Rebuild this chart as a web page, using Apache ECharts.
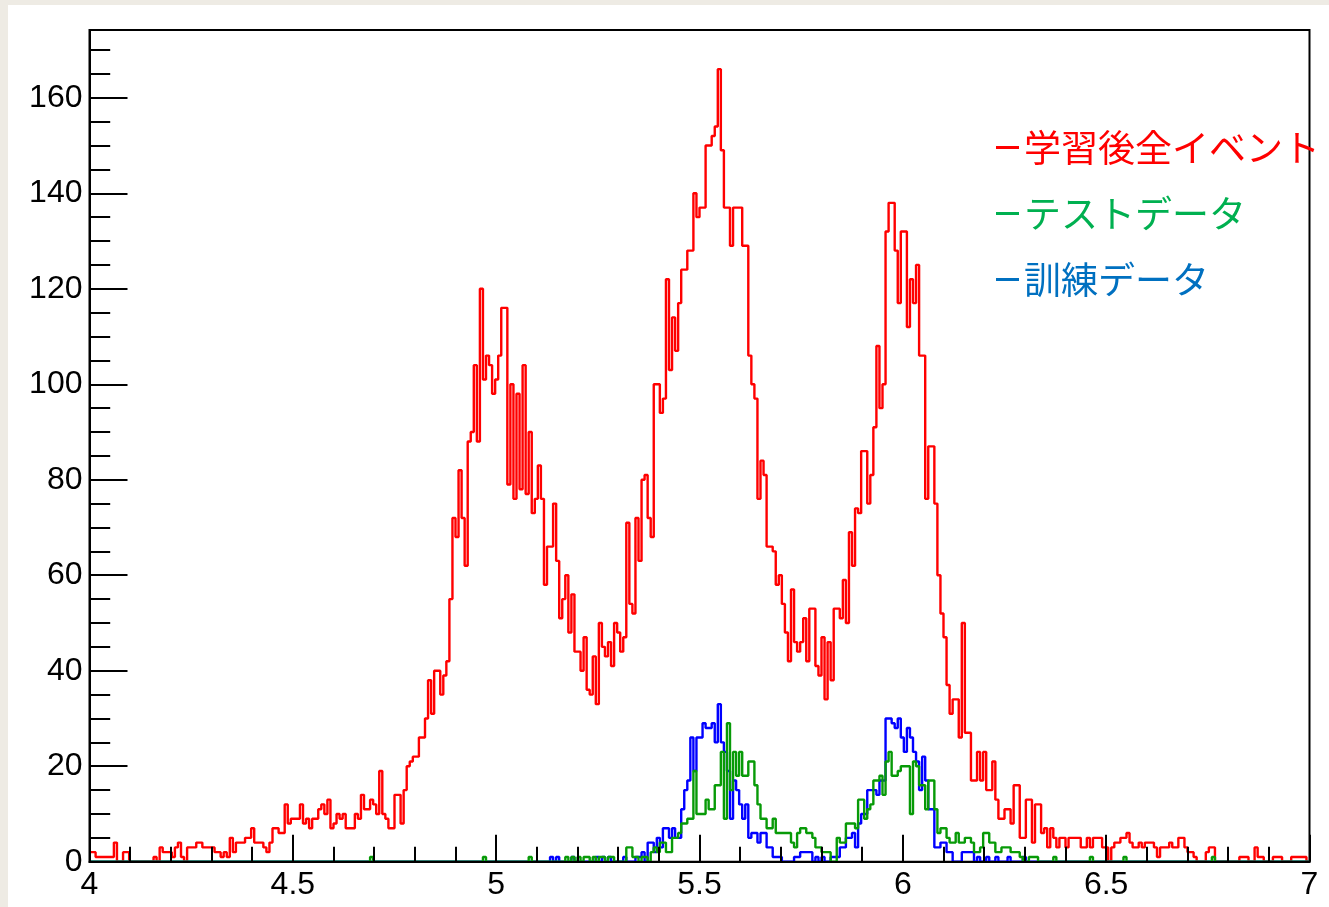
<!DOCTYPE html>
<html>
<head>
<meta charset="utf-8">
<script src="https://cdn.jsdelivr.net/npm/echarts/dist/echarts.min.js"></script>
<style>
  html, body { margin: 0; padding: 0; width: 1329px; height: 907px; background: #eeebe4; overflow: hidden; }
  #main { position: absolute; left: 8px; top: 5px; width: 1321px; height: 902px; background: #ffffff; }
</style>
</head>
<body>
<div id="main"></div>
<script>
// Histogram binning: 400 bins from 4 to 7
const X_MIN = 4;
const X_MAX = 7;

const seriesNames = ['学習後全イベント', 'テストデータ', '訓練データ'];

// 学習後全イベント (all events after training)
const allEvents = [
  2,2,1,1,1,1,1,1,4,0,
  0,2,2,0,0,0,0,0,0,0,
  0,1,0,3,2,2,2,1,3,4,
  1,0,3,3,3,4,4,3,3,3,
  3,2,2,1,2,1,5,2,4,4,
  4,5,5,7,4,4,4,3,2,4,
  7,7,6,6,12,8,9,9,9,12,
  8,9,7,9,9,11,12,10,13,7,
  8,10,9,10,7,7,7,10,9,14,
  11,11,13,12,10,19,10,9,7,7,
  14,14,8,15,20,21,22,22,26,26,
  30,38,31,40,40,35,39,42,55,72,
  68,82,72,62,88,90,104,88,120,101,
  106,104,98,101,106,116,116,79,100,76,
  98,78,104,77,90,73,76,83,76,58,
  66,66,75,63,51,55,60,48,56,44,
  44,40,47,36,35,43,33,50,45,43,
  46,41,50,48,44,47,71,54,52,72,
  63,80,81,72,68,100,100,94,97,122,
  103,114,107,117,124,124,128,128,140,135,
  137,137,150,150,152,154,166,149,137,137,
  129,137,137,137,129,129,106,100,97,76,
  84,81,66,66,65,58,60,54,48,42,
  57,46,44,46,51,42,53,53,41,39,
  47,34,46,38,53,53,51,59,50,69,
  62,74,73,86,86,75,81,91,108,95,
  100,132,138,138,128,117,132,132,112,122,
  117,125,106,106,76,87,87,75,60,52,
  47,37,31,34,34,26,50,27,27,17,
  17,23,17,23,15,15,21,13,9,9,
  11,11,8,16,16,5,5,13,13,4,
  12,12,6,7,3,7,5,3,5,5,
  3,5,5,5,5,3,3,5,3,5,
  5,5,3,3,0,3,4,4,5,5,
  6,4,3,3,4,3,4,4,4,3,
  1,3,3,3,4,3,3,5,5,3,
  2,2,1,0,0,0,2,3,3,0,
  0,0,0,0,0,0,0,1,1,1,
  0,0,3,1,1,0,0,0,1,1,
  1,0,0,0,1,1,1,1,1,0
];

// テストデータ (test data)
const testData = [
  0,0,0,0,0,0,0,0,0,0,
  0,0,0,0,0,0,0,0,0,0,
  0,0,0,0,0,0,0,0,0,0,
  0,0,0,0,0,0,0,0,0,0,
  0,0,0,0,0,0,0,0,0,0,
  0,0,0,0,0,0,0,0,0,0,
  0,0,0,0,0,0,0,0,0,0,
  0,0,0,0,0,0,0,0,0,0,
  0,0,0,0,0,0,0,0,0,0,
  0,0,1,0,0,0,0,0,0,0,
  0,0,0,0,0,0,0,0,0,0,
  0,0,0,0,0,0,0,0,0,0,
  0,0,0,0,0,0,0,0,0,1,
  0,0,0,0,0,0,0,0,0,0,
  0,0,0,0,1,0,0,0,0,0,
  0,0,0,0,0,0,1,0,1,0,
  1,0,1,1,0,1,0,1,1,0,
  1,1,0,0,0,0,3,3,1,1,
  0,1,1,0,2,3,2,4,4,2,
  2,5,5,6,8,8,9,9,19,10,
  10,10,13,11,11,16,16,23,9,29,
  15,23,18,23,18,18,21,21,16,12,
  9,9,7,7,9,6,6,6,6,6,
  4,3,6,7,7,6,6,5,3,3,
  2,2,2,0,0,5,4,4,8,8,
  8,7,13,13,9,11,12,17,17,18,
  14,21,23,18,18,19,20,20,20,10,
  21,20,16,16,11,17,17,11,6,7,
  7,5,4,4,6,4,4,5,5,4,
  2,2,3,6,6,4,4,2,2,3,
  3,3,2,2,2,1,0,0,1,1,
  1,0,0,0,0,0,1,0,0,0,
  0,0,0,0,0,0,0,0,1,0,
  0,0,0,0,0,0,0,0,0,1,
  0,0,0,0,0,0,0,0,0,0,
  0,0,0,0,0,0,0,0,0,0,
  0,0,0,0,0,0,0,0,1,0,
  0,0,0,0,0,0,0,0,0,0,
  0,0,0,0,0,0,0,0,0,0,
  0,0,0,0,0,0,0,0,0,0
];

// 訓練データ (training data)
const trainData = [
  0,0,0,0,0,0,0,0,0,0,
  0,0,0,0,0,0,0,0,0,0,
  0,0,0,0,0,0,0,0,0,0,
  0,0,0,0,0,0,0,0,0,0,
  0,0,0,0,0,0,0,0,0,0,
  0,0,0,0,0,0,0,0,0,0,
  0,0,0,0,0,0,0,0,0,0,
  0,0,0,0,0,0,0,0,0,0,
  0,0,0,0,0,0,0,0,0,0,
  0,0,0,0,0,0,0,0,0,0,
  0,0,0,0,0,0,0,0,0,0,
  0,0,0,0,0,0,0,0,0,0,
  0,0,0,0,0,0,0,0,0,0,
  0,0,0,0,0,0,0,0,0,0,
  0,0,0,0,0,0,0,0,0,0,
  0,1,0,1,0,0,0,0,1,0,
  0,0,0,0,0,0,1,0,1,0,
  1,0,0,0,0,1,0,0,0,1,
  1,2,0,4,4,2,5,3,7,7,
  5,7,5,5,11,15,17,26,19,26,
  26,29,28,28,29,25,33,25,23,19,
  9,17,15,12,9,12,5,6,6,4,
  6,6,3,3,1,1,1,0,0,0,
  0,1,1,2,2,2,2,0,1,0,
  1,0,0,1,1,1,3,3,5,5,
  6,3,8,10,10,15,15,15,14,17,
  17,30,30,29,28,30,26,23,28,26,
  23,21,15,22,17,11,11,3,3,4,
  4,2,2,0,0,0,2,2,2,2,
  0,1,0,0,1,0,0,1,0,0,
  0,1,0,0,0,0,1,0,0,0,
  0,0,0,0,0,0,0,0,0,0,
  0,0,0,0,0,0,0,0,0,0,
  0,0,0,0,0,0,0,0,0,0,
  0,0,0,0,0,0,0,0,0,0,
  0,0,0,0,0,0,0,0,0,0,
  0,0,0,0,0,0,0,0,0,0,
  0,0,0,0,0,0,0,0,0,0,
  0,0,0,0,0,0,0,0,0,0,
  0,0,0,0,0,0,0,0,0,0
];

const xTickLabels = ['4', '4.5', '5', '5.5', '6', '6.5', '7'];
const yTickLabels = ['0', '20', '40', '60', '80', '100', '120', '140', '160'];

function toSteps(vals) {
  const w = (X_MAX - X_MIN) / vals.length;
  const d = vals.map((v, i) => [X_MIN + i * w, v]);
  d.push([X_MAX, vals[vals.length - 1]]);
  return d;
}

const chart = echarts.init(document.getElementById('main'), null, { renderer: 'canvas' });
const LINE_COL = { red: '#ff0000', green: '#079a07', blue: '#0000ff' };
const TEXT_COL = { red: '#ff0000', green: '#00b050', blue: '#0070c0' };
const numFont = 'Liberation Sans, Arial, Helvetica, sans-serif';
const LW = 2.4;

const option = {
  animation: false,
  grid: { left: 81.5, right: 19.5, top: 25, bottom: 45.3, show: true, borderColor: '#000', borderWidth: 2, backgroundColor: 'transparent' },
  legend: {
    orient: 'vertical', left: 988, top: 124, padding: 0, icon: 'rect', itemWidth: 23, itemHeight: 3, itemGap: 29,
    selectedMode: false,
    textStyle: { fontSize: 37, lineHeight: 37, fontFamily: 'Noto Sans CJK JP' },
    data: [
      { name: seriesNames[0], itemStyle: { color: TEXT_COL.red }, textStyle: { color: TEXT_COL.red } },
      { name: seriesNames[1], itemStyle: { color: TEXT_COL.green }, textStyle: { color: TEXT_COL.green } },
      { name: seriesNames[2], itemStyle: { color: TEXT_COL.blue }, textStyle: { color: TEXT_COL.blue } }
    ]
  },
  xAxis: {
    type: 'value', min: X_MIN, max: X_MAX, interval: 0.5, z: 5,
    axisLine: { show: true, lineStyle: { color: '#000', width: 2 } },
    axisTick: { show: true, inside: true, length: 27, lineStyle: { color: '#000', width: 2 } },
    minorTick: { show: true, splitNumber: 5, length: 15, lineStyle: { color: '#000', width: 2 } },
    axisLabel: { color: '#000', fontSize: 32, fontFamily: numFont, margin: 7,
      formatter: v => { const s = xTickLabels.find(t => Math.abs(parseFloat(t) - v) < 1e-6); return s === undefined ? '' : s; } },
    splitLine: { show: false }
  },
  yAxis: [
    {
      type: 'value', min: 0, max: 174.2, interval: 20, position: 'left', z: 5,
      axisLine: { show: true, lineStyle: { color: '#000', width: 2 } },
      axisTick: { show: true, inside: true, length: 38, lineStyle: { color: '#000', width: 2 } },
      axisLabel: { color: '#000', fontSize: 32, fontFamily: numFont, margin: 7,
        formatter: v => { const s = yTickLabels.find(t => Math.abs(parseFloat(t) - v) < 1e-6); return s === undefined ? '' : s; } },
      splitLine: { show: false }
    },
    {
      type: 'value', min: 0, max: 174.2, interval: 5, position: 'left', z: 5,
      axisLine: { show: false },
      axisTick: { show: true, inside: true, length: 20.7, lineStyle: { color: '#000', width: 2 } },
      axisLabel: { show: false },
      splitLine: { show: false }
    }
  ],
  series: [
    { name: seriesNames[0], type: 'line', step: 'end', data: toSteps(allEvents), showSymbol: false, symbol: 'none',
      lineStyle: { color: LINE_COL.red, width: LW }, itemStyle: { color: LINE_COL.red }, silent: true },
    { name: seriesNames[2], type: 'line', step: 'end', data: toSteps(trainData), showSymbol: false, symbol: 'none',
      lineStyle: { color: LINE_COL.blue, width: LW }, itemStyle: { color: LINE_COL.blue }, silent: true },
    { name: seriesNames[1], type: 'line', step: 'end', data: toSteps(testData), showSymbol: false, symbol: 'none',
      lineStyle: { color: LINE_COL.green, width: LW }, itemStyle: { color: LINE_COL.green }, silent: true }
  ]
};
chart.setOption(option);
</script>
</body>
</html>
